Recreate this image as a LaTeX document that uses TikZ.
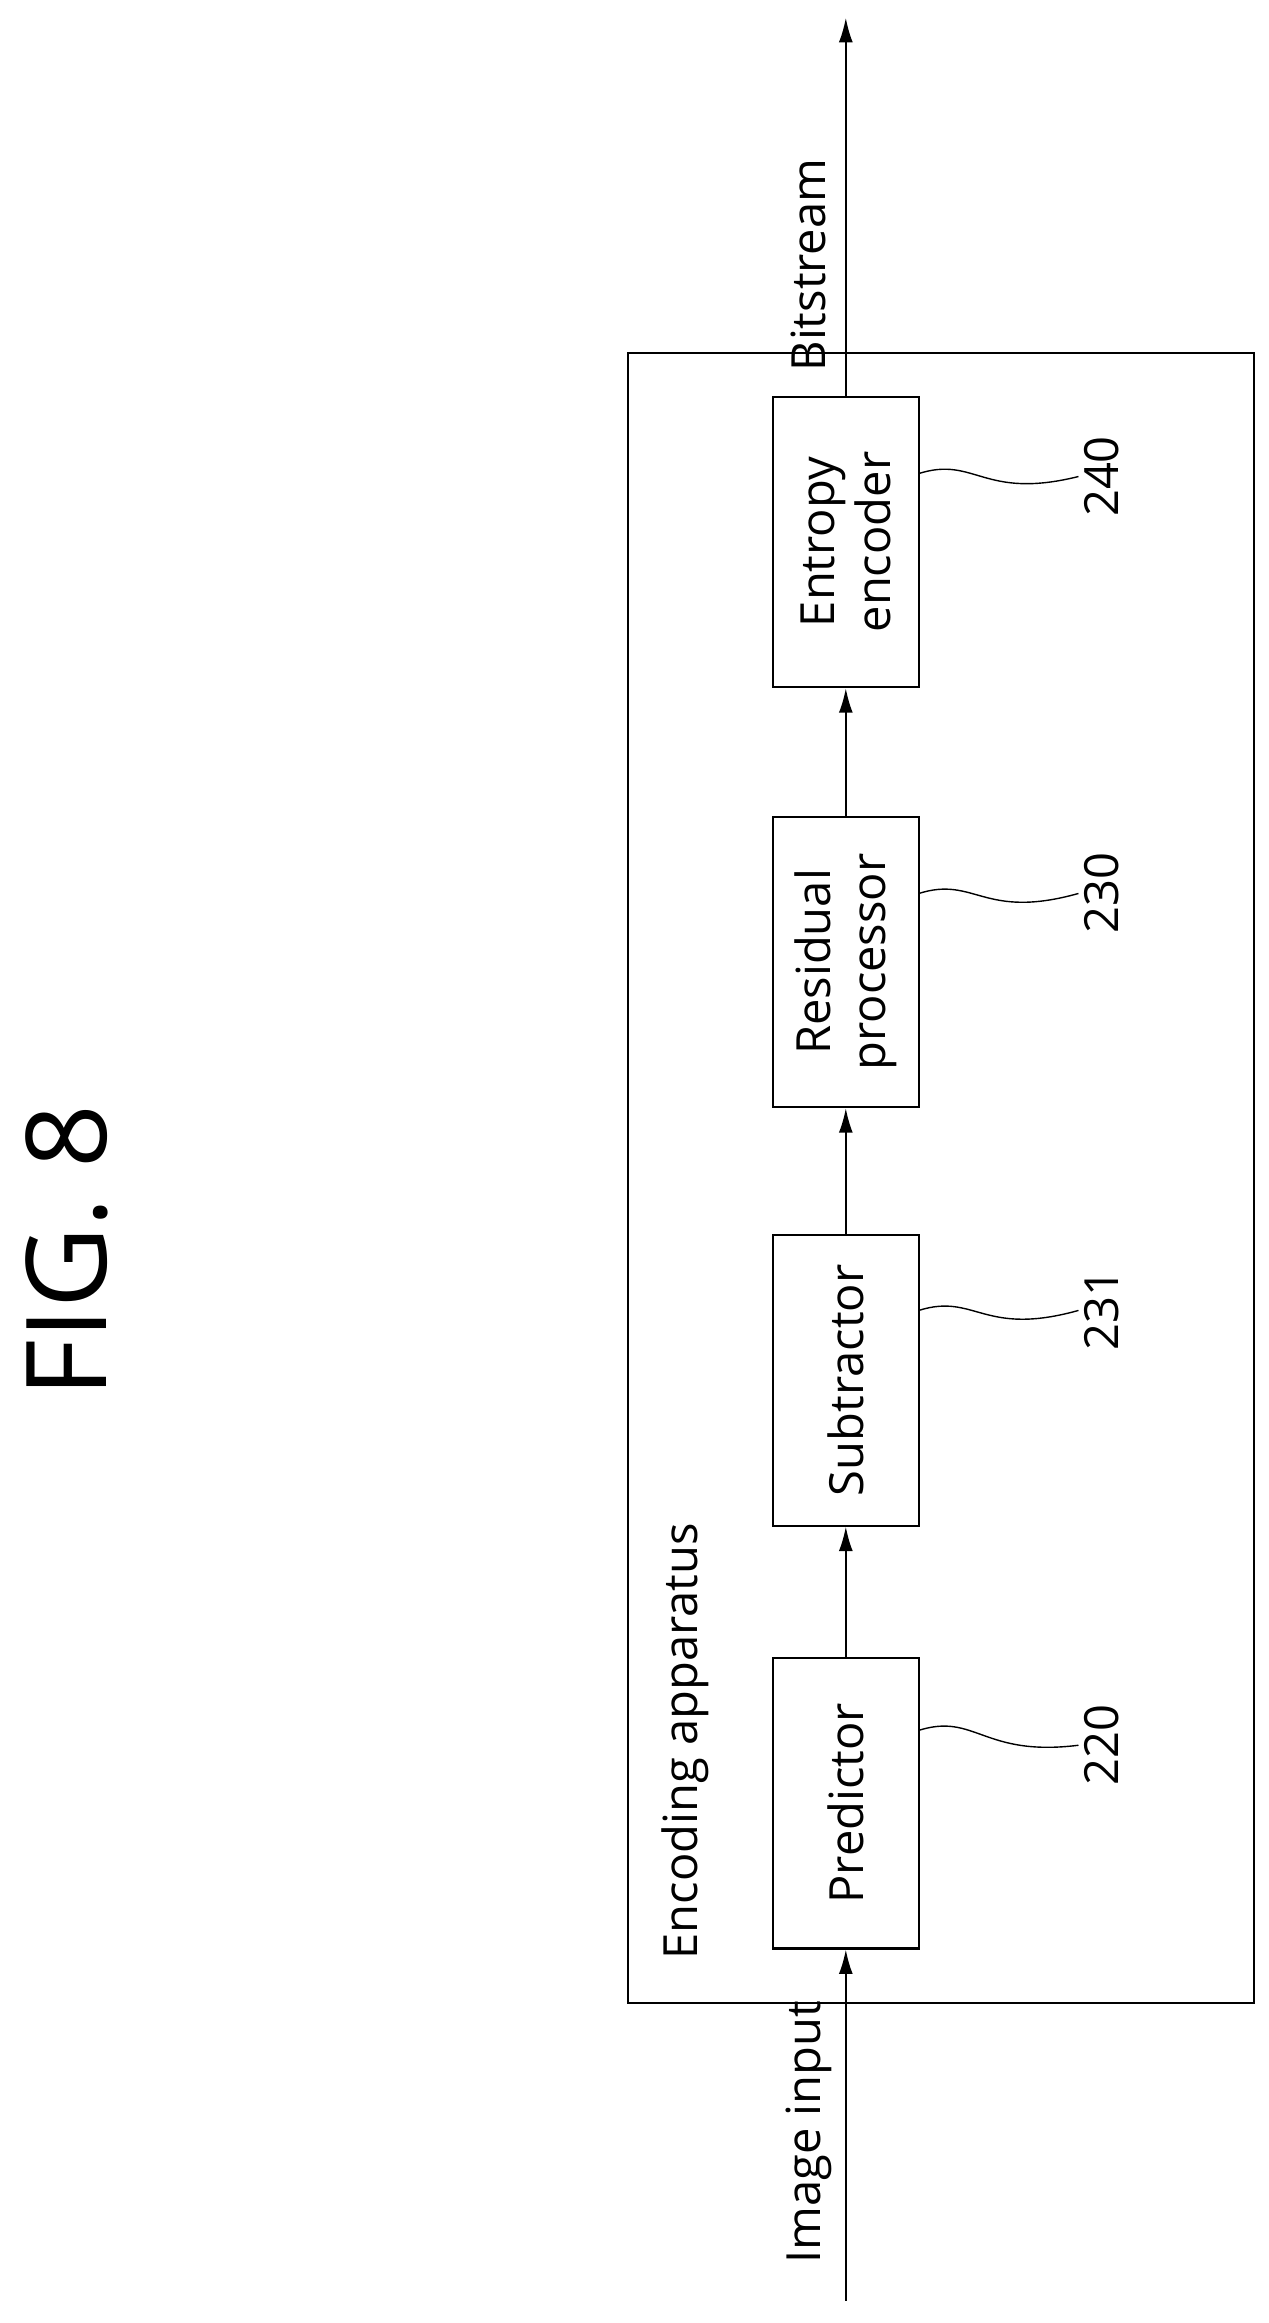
\documentclass[tikz,border=0pt]{standalone}
\usepackage{fontspec}
\setmainfont{Open Sans}
\usetikzlibrary{arrows.meta}
\tikzset{
  blk/.style={draw, line width=1.2pt, rotate=90, minimum width=5.85cm, minimum height=2.94cm, align=center, font=\fontsize{27}{32}\selectfont},
  lbl/.style={rotate=90, font=\fontsize{27}{32}\selectfont},
  flow/.style={-{Latex[length=14pt,width=8pt]}, line width=1pt},
  lead/.style={line width=0.8pt}
}
\begin{document}
\begin{tikzpicture}[x=0.03cm,y=-0.03cm]
		\useasboundingbox (0,0) rectangle (852,1560);
		\draw[line width=1.2pt] (422,237) rectangle (842,1345);
		\node[rotate=90, font=\fontsize{64}{72}\selectfont] (fig) at (45,840) {FIG. 8};
		\node[lbl, anchor=west] (app) at (460,1320) {Encoding apparatus};

		\node[blk] (pred) at (568,1211) {Predictor};
		\node[blk] (sub) at (568,927) {Subtractor};
		\node[blk] (res) at (568,646) {Residual\\processor};
		\node[blk] (ent) at (568,364) {Entropy\\encoder};

		\coordinate (in) at (568,1545);
		\coordinate (out) at (568,12);
		\node[lbl] (inlbl) at (543,1432) {Image input};
		\node[lbl] (outlbl) at (543,178) {Bitstream};

		\draw[flow] (in) -- (pred);
		\draw[flow] (pred) -- (sub);
		\draw[flow] (sub) -- (res);
		\draw[flow] (res) -- (ent);
		\draw[flow] (ent) -- (out);

		% reference numerals
		\node[lbl] (n220) at (740,1172) {220};
		\node[lbl] (n231) at (740,880) {231};
		\node[lbl] (n230) at (740,600) {230};
		\node[lbl] (n240) at (740,320) {240};
		\draw[lead] (617,1162) .. controls (655,1150) and (660,1180) .. (n220.north);
		\draw[lead] (617,880) .. controls (655,868) and (660,898) .. (n231.north);
		\draw[lead] (617,600) .. controls (655,588) and (660,618) .. (n230.north);
		\draw[lead] (617,318) .. controls (655,306) and (660,336) .. (n240.north);
\end{tikzpicture}
\end{document}
